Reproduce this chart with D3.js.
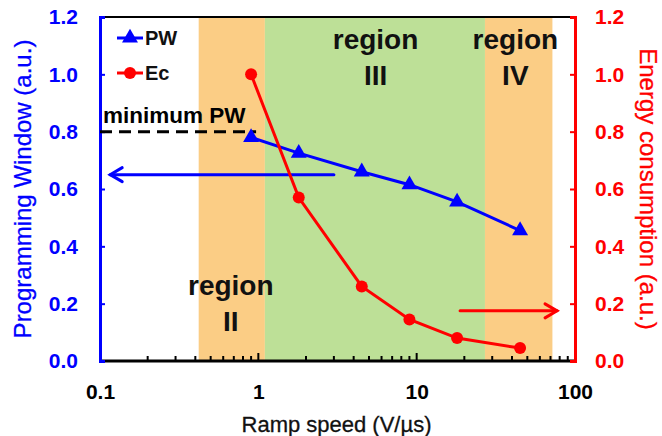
<!DOCTYPE html>
<html>
<head>
<meta charset="utf-8">
<script src="https://cdn.jsdelivr.net/npm/d3@7"></script>
<style>
  html, body { margin: 0; padding: 0; background: #fff; }
  svg { display: block; font-family: "Liberation Sans", Arial, sans-serif; }
</style>
</head>
<body>
<svg id="chart" width="662" height="436"></svg>
<script>
// Ramp speeds (V/µs) and the two measured series
const rampSpeed = [0.9, 1.8, 4.5, 9, 18, 45];
const programmingWindow = [0.78, 0.725, 0.66, 0.615, 0.555, 0.455];
const energyConsumption = [1.0, 0.57, 0.26, 0.145, 0.08, 0.045];

// Operating regions along the ramp-speed axis
const regionBands = [
  { name: "II", from: 0.42, to: 1.1, fill: "#fbcd85" },
  { name: "III", from: 1.1, to: 27, fill: "#bde097" },
  { name: "IV", from: 27, to: 72, fill: "#fbcd85" }
];
const regionLabels = [
  { name: "II", x: 0.67, y: 0.23 },
  { name: "III", x: 5.5, y: 1.09 },
  { name: "IV", x: 42, y: 1.09 }
];

const minimumPW = 0.8;
const xTicks = [0.1, 1, 10, 100];
const yTicks = [0, 0.2, 0.4, 0.6, 0.8, 1.0, 1.2];

const svg = d3.select("#chart");
const m = { left: 100, right: 575, top: 17, bottom: 361 };

const x = d3.scaleLog().domain([0.1, 100]).range([m.left, m.right]);
const yL = d3.scaleLinear().domain([0, 1.2]).range([m.bottom, m.top]);
const yR = d3.scaleLinear().domain([0, 1.2]).range([m.bottom, m.top]);

const BLUE = "#0000ff", RED = "#ff0000";

// region bands
svg.append("g").selectAll("rect").data(regionBands).join("rect")
  .attr("x", d => x(d.from))
  .attr("width", d => x(d.to) - x(d.from))
  .attr("y", m.top)
  .attr("height", m.bottom - m.top)
  .attr("fill", d => d.fill);

// region labels
const rl = svg.append("g").attr("font-weight", "bold").attr("font-size", 28)
  .attr("text-anchor", "middle").attr("fill", "#111");
regionLabels.forEach(r => {
  const t = rl.append("text").attr("x", x(r.x)).attr("y", yL(r.y));
  t.append("tspan").attr("x", x(r.x)).attr("dy", 0).text("region");
  t.append("tspan").attr("x", x(r.x)).attr("dy", 36).text(r.name);
});

// top frame
svg.append("line").attr("x1", m.left).attr("x2", m.right)
  .attr("y1", m.top).attr("y2", m.top).attr("stroke", "#000").attr("stroke-width", 2);

// bottom axis (log, ticks inward)
const xAxis = d3.axisBottom(x).tickValues(xTicks).tickSize(0).tickPadding(0).tickFormat(d3.format("~g"));
const gx = svg.append("g").attr("transform", `translate(0,${m.bottom})`).call(xAxis);
gx.select(".domain").remove();
gx.selectAll("text").attr("y", 23).attr("font-size", 21).attr("font-weight", "bold")
  .attr("fill", "#000").attr("font-family", "Liberation Sans, Arial, sans-serif");
const minor = [];
for (let e = -1; e < 2; e++) for (let k = 2; k <= 9; k++) minor.push(k * Math.pow(10, e));
svg.append("g").selectAll("line").data(minor).join("line")
  .attr("x1", d => x(d)).attr("x2", d => x(d))
  .attr("y1", m.bottom).attr("y2", m.bottom - 5)
  .attr("stroke", "#000").attr("stroke-width", 2);
svg.append("g").selectAll("line").data(xTicks).join("line")
  .attr("x1", d => x(d)).attr("x2", d => x(d))
  .attr("y1", m.bottom).attr("y2", m.bottom - 8)
  .attr("stroke", "#000").attr("stroke-width", 2);
svg.append("line").attr("x1", m.left).attr("x2", m.right)
  .attr("y1", m.bottom).attr("y2", m.bottom).attr("stroke", "#000").attr("stroke-width", 3);

// left axis
const gl = svg.append("g").attr("transform", `translate(${m.left},0)`)
  .call(d3.axisLeft(yL).tickValues(yTicks).tickSize(-5).tickPadding(22).tickFormat(d3.format(".1f")));
gl.select(".domain").attr("stroke", BLUE).attr("stroke-width", 3);
gl.selectAll(".tick line").attr("stroke", BLUE).attr("stroke-width", 2);
gl.selectAll("text").attr("fill", BLUE).attr("font-size", 21).attr("font-weight", "bold")
  .attr("font-family", "Liberation Sans, Arial, sans-serif");

// right axis
const gr = svg.append("g").attr("transform", `translate(${m.right},0)`)
  .call(d3.axisRight(yR).tickValues(yTicks).tickSize(-5).tickPadding(20).tickFormat(d3.format(".1f")));
gr.select(".domain").attr("stroke", RED).attr("stroke-width", 3);
gr.selectAll(".tick line").attr("stroke", RED).attr("stroke-width", 2);
gr.selectAll("text").attr("fill", RED).attr("font-size", 21).attr("font-weight", "bold")
  .attr("font-family", "Liberation Sans, Arial, sans-serif");

// axis titles
svg.append("text").attr("transform", `translate(23,${(m.top + m.bottom) / 2}) rotate(-90)`)
  .attr("text-anchor", "middle").attr("dy", "0.35em").attr("font-size", 24)
  .attr("fill", BLUE).attr("stroke", BLUE).attr("stroke-width", 0.3)
  .text("Programming Window (a.u.)");
svg.append("text").attr("transform", `translate(648,${(m.top + m.bottom) / 2}) rotate(90)`)
  .attr("text-anchor", "middle").attr("dy", "0.35em").attr("font-size", 24)
  .attr("fill", RED).attr("stroke", RED).attr("stroke-width", 0.3)
  .text("Energy consumption (a.u.)");
svg.append("text").attr("x", (m.left + m.right) / 2 - 1).attr("y", 432)
  .attr("text-anchor", "middle").attr("font-size", 22).attr("fill", "#111")
  .attr("stroke", "#111").attr("stroke-width", 0.3)
  .text("Ramp speed (V/µs)");

// minimum PW dashed reference
svg.append("line").attr("x1", m.left).attr("x2", x(rampSpeed[0]) + 5)
  .attr("y1", yL(minimumPW)).attr("y2", yL(minimumPW))
  .attr("stroke", "#000").attr("stroke-width", 3).attr("stroke-dasharray", "12,7");
svg.append("text").attr("x", 103).attr("y", yL(minimumPW) - 9)
  .attr("font-size", 22.5).attr("font-weight", "bold").attr("fill", "#000").text("minimum PW");

// axis-indicating arrows
function arrow(x1, x2, yv, color) {
  const g = svg.append("g").attr("stroke", color).attr("stroke-width", 3)
    .attr("fill", "none").attr("stroke-linecap", "round");
  g.append("line").attr("x1", x1).attr("x2", x2).attr("y1", yv).attr("y2", yv);
  const dir = x2 > x1 ? -1 : 1;
  g.append("polyline").attr("points",
    `${x2 + dir * 12},${yv - 7} ${x2},${yv} ${x2 + dir * 12},${yv + 7}`);
}
arrow(x(3.0), x(0.116), yL(0.65), BLUE);
arrow(x(18.8), x(77), yR(0.175), RED);

// PW series
const pts = rampSpeed.map((s, i) => ({ s, pw: programmingWindow[i], ec: energyConsumption[i] }));
svg.append("path").datum(pts)
  .attr("d", d3.line().x(d => x(d.s)).y(d => yL(d.pw)))
  .attr("fill", "none").attr("stroke", BLUE).attr("stroke-width", 3);
const tri = d3.symbol().type(d3.symbolTriangle).size(110);
svg.append("g").selectAll("path").data(pts).join("path")
  .attr("d", tri)
  .attr("transform", d => `translate(${x(d.s)},${yL(d.pw)})`)
  .attr("fill", BLUE);

// Ec series
svg.append("path").datum(pts)
  .attr("d", d3.line().x(d => x(d.s)).y(d => yR(d.ec)))
  .attr("fill", "none").attr("stroke", RED).attr("stroke-width", 3);
svg.append("g").selectAll("circle").data(pts).join("circle")
  .attr("cx", d => x(d.s)).attr("cy", d => yR(d.ec)).attr("r", 6)
  .attr("fill", RED);

// legend
const legend = [
  { label: "PW", color: BLUE, mark: "tri", y: 38 },
  { label: "Ec", color: RED, mark: "circle", y: 73 }
];
legend.forEach(l => {
  svg.append("line").attr("x1", 117).attr("x2", 143).attr("y1", l.y).attr("y2", l.y)
    .attr("stroke", l.color).attr("stroke-width", 3);
  if (l.mark === "tri") {
    svg.append("path").attr("d", tri).attr("transform", `translate(130,${l.y})`).attr("fill", l.color);
  } else {
    svg.append("circle").attr("cx", 130).attr("cy", l.y).attr("r", 6).attr("fill", l.color);
  }
  svg.append("text").attr("x", 145).attr("y", l.y + 7).attr("font-size", 20)
    .attr("font-weight", "bold").attr("fill", "#111").text(l.label);
});
</script>
</body>
</html>
